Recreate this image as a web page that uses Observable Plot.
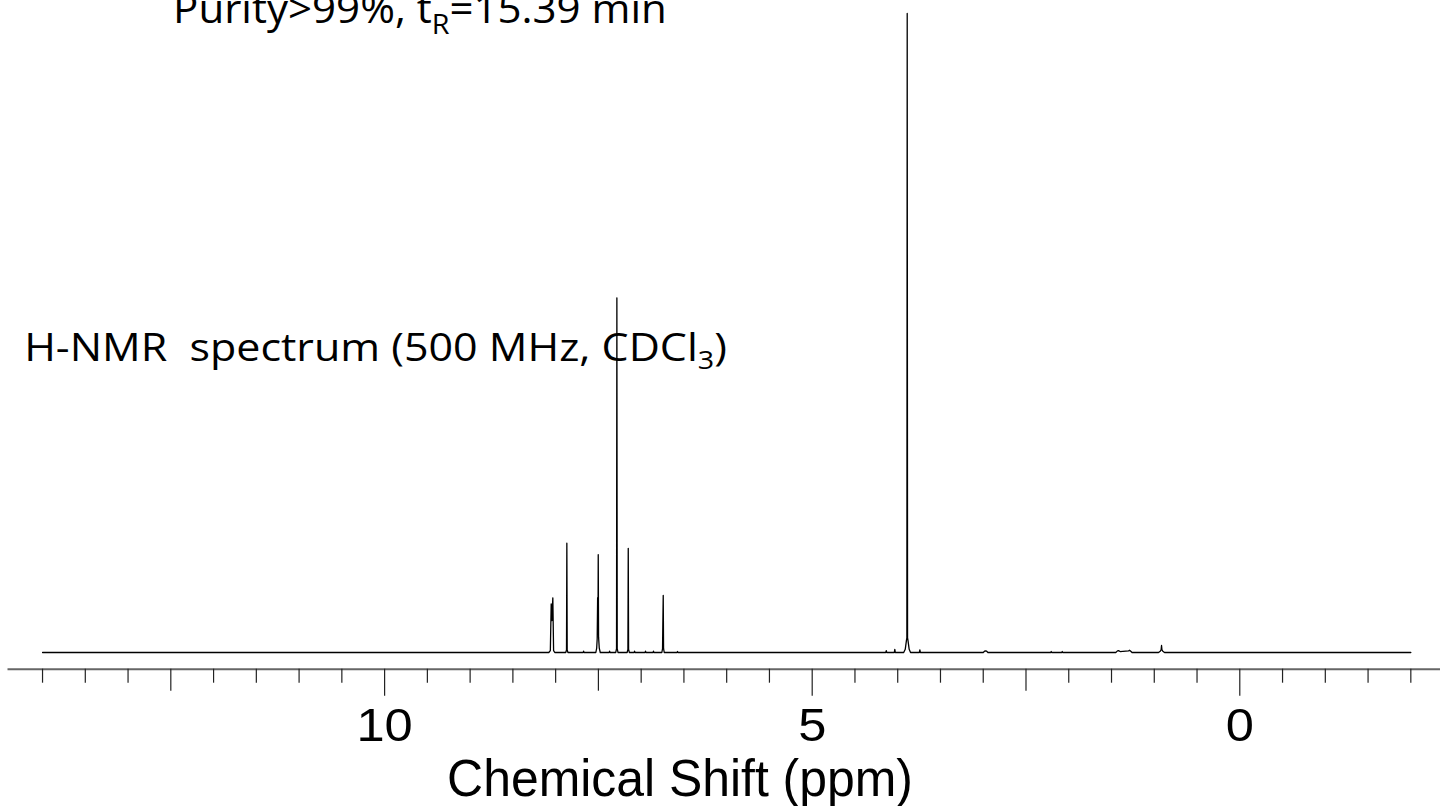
<!DOCTYPE html>
<html>
<head>
<meta charset="utf-8">
<script src="https://cdn.jsdelivr.net/npm/d3@7"></script>
<script src="https://cdn.jsdelivr.net/npm/@observablehq/plot@0.6"></script>
<style>
  html, body { margin: 0; padding: 0; background: #fff; overflow: hidden; }
  #chart { position: relative; width: 1440px; height: 806px; }
</style>
</head>
<body>
<div id="chart"></div>
<script>
// ---- Spectrum vertices (chemical shift in ppm, relative intensity) ----
const shift = [
  14.0,
  8.08, 8.062, 8.052, 8.044, 8.033, 8.024, 8.01,
  7.882, 7.873, 7.869, 7.865, 7.856,
  7.678, 7.673, 7.668,
  7.53, 7.52, 7.514, 7.509, 7.505, 7.502, 7.498, 7.49, 7.478,
  7.374, 7.369, 7.364,
  7.297, 7.288, 7.284, 7.280, 7.271,
  7.164, 7.155, 7.151, 7.147, 7.138,
  7.082, 7.077, 7.072,
  6.954, 6.949, 6.944,
  6.861, 6.856, 6.851,
  6.758, 6.750, 6.746, 6.742, 6.738, 6.73,
  6.58, 6.575, 6.57,
  4.14, 4.134, 4.128,
  4.04, 4.034, 4.028,
  3.93, 3.912, 3.898, 3.893, 3.889, 3.885, 3.880, 3.866, 3.85,
  3.747, 3.741, 3.735,
  3.0, 2.985, 2.973, 2.96, 2.945,
  2.21, 2.205, 2.2,
  2.081, 2.076, 2.071,
  1.45, 1.43, 1.418, 1.40, 1.30, 1.289, 1.275, 1.26,
  0.95, 0.93, 0.92, 0.915, 0.91, 0.90, 0.88,
  -2.0
];
const intensity = [
  0,
  0, 0.3, 7.6, 5.0, 8.56, 0.3, 0,
  0, 0.4, 17.1, 0.4, 0,
  0, 0.2, 0,
  0, 0.7, 2.2, 8.6, 3.0, 15.3, 2.4, 0.7, 0,
  0, 0.2, 0,
  0, 0.6, 55.5, 0.6, 0,
  0, 0.5, 16.3, 0.5, 0,
  0, 0.2, 0,
  0, 0.2, 0,
  0, 0.2, 0,
  0, 0.6, 5.0, 8.92, 0.6, 0,
  0, 0.15, 0,
  0, 0.3, 0,
  0, 0.5, 0,
  0, 0.5, 1.9, 2.3, 100, 2.3, 1.9, 0.5, 0,
  0, 0.4, 0,
  0, 0.2, 0.25, 0.2, 0,
  0, 0.15, 0,
  0, 0.15, 0,
  0, 0.25, 0.3, 0.15, 0.25, 0.35, 0.2, 0,
  0, 0.2, 0.4, 1.1, 0.4, 0.2, 0,
  0
];

// ---- Axis ticks ----
const minorTicks = [14, 13.5, 13, 12, 11.5, 11, 10.5, 9.5, 9, 8.5, 8, 7, 6.5, 6, 5.5,
                    4.5, 4, 3.5, 3, 2, 1.5, 1, 0.5, -0.5, -1, -1.5, -2];
const mediumTicks = [12.5, 7.5, 2.5];
const majorTicks = [10, 5, 0];
const majorLabels = ["10", "5", "0"];

// ---- Texts ----
const axisTitle = "Chemical Shift (ppm)";
const purityParts = [["Purity>99%, t", false], ["R", true], ["=15.39 min", false]];
const nmrParts = [["H-NMR  spectrum (500 MHz, CDCl", false], ["3", true], [")", false]];

const spectrum = shift.map((s, i) => ({shift: s, intensity: intensity[i]}));

const plot = Plot.plot({
  width: 1440,
  height: 806,
  marginLeft: 8,
  marginRight: 0,
  marginTop: 13,
  marginBottom: 137.3,
  style: {fontFamily: "'Liberation Sans', Arial, sans-serif", background: "#fff", color: "#000"},
  x: {domain: [14.398, -2.347]},
  y: {domain: [-2.614, 100], axis: null},
  marks: [
    Plot.frame({anchor: "bottom", stroke: "#666", strokeWidth: 2}),
    Plot.axisX(minorTicks, {tickSize: 14, stroke: "#222", strokeWidth: 1.2, fill: "none", label: null}),
    Plot.axisX(mediumTicks, {tickSize: 22, stroke: "#222", strokeWidth: 1.2, fill: "none", label: null}),
    Plot.axisX(majorTicks, {
      tickSize: 27, tickPadding: 12, stroke: "#222", strokeWidth: 1.2,
      fontSize: 46, fill: "#000", label: null,
      tickFormat: d => majorLabels[majorTicks.indexOf(d)]
    }),
    Plot.line(spectrum, {x: "shift", y: "intensity", stroke: "#000", strokeWidth: 1.3})
  ]
});

document.getElementById("chart").appendChild(plot);
const svg = d3.select(plot);
svg.style("overflow", "hidden");

// widen the tick-label glyphs a little, as in the reference
svg.selectAll('g[aria-label="x-axis tick label"] text').each(function () {
  const t = this.getAttribute("transform") || "";
  this.setAttribute("transform", t + " scale(1.1,1)");
});

function addText(parts, {left, baseline, width, family, size, subSize, subShift}) {
  const t = svg.append("text")
    .attr("font-family", family)
    .attr("font-size", size)
    .attr("fill", "#000")
    .attr("x", 0).attr("y", 0)
    .style("white-space", "pre");
  let inSub = false;
  for (const [str, sub] of parts) {
    const ts = t.append("tspan").text(str);
    if (sub && !inSub) { ts.attr("dy", subShift).attr("font-size", subSize); inSub = true; }
    else if (!sub && inSub) { ts.attr("dy", -subShift).attr("font-size", size); inSub = false; }
  }
  const bb = t.node().getBBox();
  const s = width / bb.width;
  t.attr("transform", `translate(${left - bb.x * s},${baseline}) scale(${s},1)`);
}

addText(purityParts, {left: 173, baseline: 23, width: 494, family: "'Open Sans', sans-serif", size: 41, subSize: 28, subShift: 11});
addText(nmrParts, {left: 24, baseline: 361, width: 703, family: "'Open Sans', sans-serif", size: 39, subSize: 26, subShift: 8});
addText([[axisTitle, false]], {left: 447, baseline: 796, width: 466, family: "'Liberation Sans', Arial, sans-serif", size: 51, subSize: 51, subShift: 0});
</script>
</body>
</html>
